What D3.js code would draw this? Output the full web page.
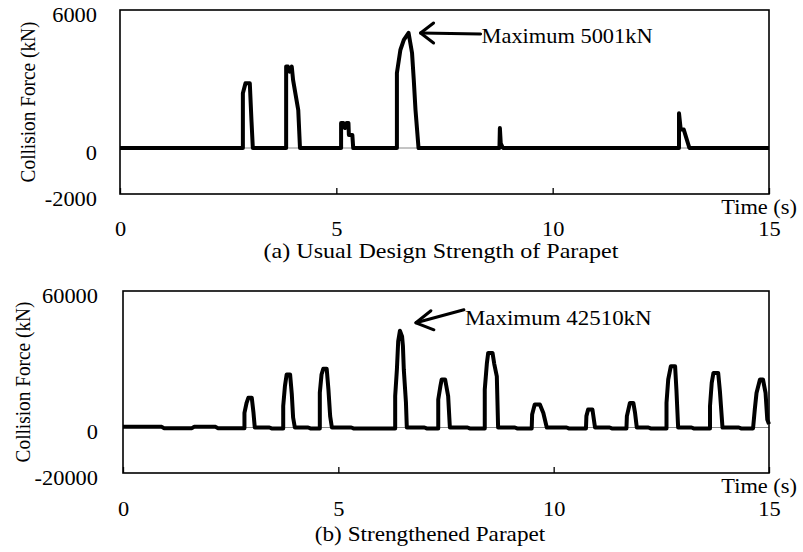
<!DOCTYPE html>
<html>
<head>
<meta charset="utf-8">
<script src="https://cdn.jsdelivr.net/npm/d3@7"></script>
<style>
  body { margin: 0; background: #fff; }
  svg { display: block; font-family: "Liberation Serif", "Times New Roman", serif; }
</style>
</head>
<body>
<svg id="chart" width="803" height="552"></svg>
<script>
// (a) usual design strength of parapet
var timeA  = [0, 2.84, 2.84, 2.90, 3.00, 3.04, 3.07,
              3.84, 3.84, 3.88, 3.92, 3.97, 4.00, 4.12, 4.16,
              5.11, 5.11, 5.16, 5.20, 5.24, 5.28, 5.29, 5.37, 5.39,
              6.40, 6.40, 6.48, 6.56, 6.67, 6.75, 6.79, 6.83, 6.90,
              8.77, 8.78, 8.80, 8.85,
              12.92, 12.92, 12.96, 13.03, 13.16, 15];
var forceA = [0, 0, 2380, 2810, 2810, 1140, 0,
              0, 3540, 3540, 3320, 3540, 2960, 1650, 0,
              0, 1090, 1090, 870, 1090, 1090, 565, 565, 0,
              0, 3260, 4260, 4700, 5001, 4130, 2960, 1650, 0,
              0, 870, 200, 0,
              0, 1510, 800, 800, 0, 0];

// (b) strengthened parapet
var timeB  = [0, 0.9, 0.95, 1.6, 1.65, 2.15, 2.2,
              2.82, 2.82, 2.87, 2.91, 2.99, 3.03, 3.06, 3.4, 3.45,
              3.72, 3.72, 3.76, 3.80, 3.88, 3.92, 3.95, 3.99, 4.3, 4.35,
              4.57, 4.57, 4.61, 4.65, 4.73, 4.77, 4.81, 4.85, 5.3, 5.35,
              6.32, 6.32, 6.36, 6.39, 6.43, 6.48, 6.50, 6.52, 6.57, 6.59, 7.0, 7.05,
              7.32, 7.32, 7.37, 7.40, 7.48, 7.55, 7.59, 8.0, 8.05,
              8.40, 8.40, 8.45, 8.48, 8.58, 8.62, 8.68, 8.71, 9.1, 9.15,
              9.49, 9.50, 9.56, 9.68, 9.76, 9.84, 10.3, 10.35,
              10.75, 10.76, 10.80, 10.90, 10.96, 11.3, 11.35,
              11.69, 11.70, 11.77, 11.85, 11.89, 11.93, 12.2, 12.25,
              12.62, 12.62, 12.66, 12.72, 12.82, 12.85, 12.89, 13.2, 13.25,
              13.63, 13.63, 13.67, 13.71, 13.82, 13.86, 13.92, 14.3, 14.35,
              14.63, 14.67, 14.71, 14.79, 14.86, 14.92, 14.96, 15.0];
var forceB = [300, 300, -300, -300, 300, 300, -300,
              -300, 6460, 10860, 13060, 13060, 6460, 0, 0, -400,
              -400, 9400, 18200, 23300, 23300, 14500, 4400, 0, 0, -400,
              -400, 15250, 23300, 25800, 25800, 16700, 5000, 0, 0, -400,
              -400, 13800, 25500, 37900, 42510, 40000, 35700, 25500, 11000, 0, 0, -400,
              -400, 12300, 18200, 21100, 21100, 13800, 0, 0, -400,
              -400, 16700, 28400, 32800, 32800, 28000, 22500, 0, 0, -400,
              -400, 5700, 10100, 10100, 6400, 0, 0, -400,
              -400, 5000, 7900, 7900, 0, 0, -400,
              -400, 5000, 10800, 10800, 6400, 0, 0, -400,
              -400, 10800, 21100, 26900, 26900, 16700, 0, 0, -400,
              -400, 9400, 19600, 24000, 24000, 16000, 0, 0, -400,
              -400, 7900, 15200, 21100, 21100, 15200, 3500, 1500];

var xTicks  = [0, 5, 10, 15];
var yTicksA = [-2000, 0, 6000];
var yTicksB = [-20000, 0, 60000];
var yTitle  = "Collision Force (kN)";
var xTitle  = "Time (s)";
var captionA = "(a) Usual Design Strength of Parapet";
var captionB = "(b) Strengthened Parapet";
var noteA = "Maximum 5001kN";
var noteB = "Maximum 42510kN";

var svg = d3.select("#chart");
var sx = 1.12; // source figure is stretched sideways a little
var plain = function(d) { return String(d); }; // hyphen minus, no grouping

function label(g, x, y, str, anchor, size) {
  return g.append("text")
    .attr("transform", "translate(" + x + "," + y + ") scale(" + sx + ",1)")
    .attr("text-anchor", anchor)
    .attr("font-size", size || 20)
    .text(str);
}

function panel(p) {
  var g = svg.append("g");
  var x = d3.scaleLinear().domain([0, 15]).range([p.left, p.right]);
  var y = d3.scaleLinear().domain(p.yDomain).range([p.bottom, p.top]);

  // zero line
  g.append("line")
    .attr("x1", p.left).attr("x2", p.right)
    .attr("y1", y(0)).attr("y2", y(0))
    .attr("stroke", "#8a8a8a").attr("stroke-width", 1);

  // frame
  g.append("rect")
    .attr("x", p.left).attr("y", p.top)
    .attr("width", p.right - p.left).attr("height", p.bottom - p.top)
    .attr("fill", "none").attr("stroke", "#000").attr("stroke-width", 1.6);

  // x axis: ticks point up into the frame, labels sit well below
  var xa = g.append("g")
    .attr("transform", "translate(0," + p.bottom + ")")
    .call(d3.axisBottom(x).tickValues(xTicks).tickFormat(plain)
      .tickSizeInner(-6).tickSizeOuter(0).tickPadding(p.xPad));
  xa.attr("font-family", null).attr("font-size", null);
  xa.select(".domain").remove();
  xa.selectAll("line").attr("stroke", "#000").attr("stroke-width", 1.3);
  xa.selectAll("text").attr("font-size", 20).attr("fill", "#000")
    .attr("transform", "scale(" + sx + ",1)");

  var ya = g.append("g")
    .attr("transform", "translate(" + p.left + ",0)")
    .call(d3.axisLeft(y).tickValues(p.yTicks).tickFormat(plain).tickSize(0).tickPadding(0));
  ya.attr("font-family", null).attr("font-size", null);
  ya.select(".domain").remove();
  ya.selectAll("text").attr("font-size", 20).attr("fill", "#000")
    .attr("x", 0).attr("dy", "0.55em")
    .attr("transform", "translate(" + (-p.labelGap) + ",0) scale(" + sx + ",1)");

  // series
  var pts = d3.zip(p.time, p.force);
  g.append("path")
    .datum(pts)
    .attr("fill", "none")
    .attr("stroke", "#000")
    .attr("stroke-width", 4)
    .attr("stroke-linejoin", "round")
    .attr("d", d3.line().x(function(d) { return x(d[0]); }).y(function(d) { return y(d[1]); }));

  // titles
  g.append("text")
    .attr("transform", "translate(" + p.yTitleX + "," + ((p.top + p.bottom) / 2) + ") scale(" + sx + ",1) rotate(-90)")
    .attr("text-anchor", "middle")
    .attr("font-size", 19.3)
    .text(yTitle);
  label(g, 797, p.bottom + 20, xTitle, "end");
  label(g, p.captionX, p.bottom + p.captionDy, p.caption, "middle", p.captionSize);

  // maximum annotation
  var i = d3.maxIndex(p.force);
  var tip = [x(p.time[i]) + p.tip[0], y(p.force[i]) + p.tip[1]];
  var a = g.append("g").attr("stroke", "#000").attr("stroke-width", 3)
    .attr("fill", "none").attr("stroke-linecap", "round").attr("stroke-linejoin", "round");
  a.append("line")
    .attr("x1", tip[0]).attr("y1", tip[1])
    .attr("x2", tip[0] + p.shaft[0]).attr("y2", tip[1] + p.shaft[1]);
  a.append("path")
    .attr("d", "M" + (tip[0] + p.barb1[0]) + "," + (tip[1] + p.barb1[1]) +
               "L" + tip[0] + "," + tip[1] +
               "L" + (tip[0] + p.barb2[0]) + "," + (tip[1] + p.barb2[1]));
  g.append("text")
    .attr("transform", "translate(" + (tip[0] + p.shaft[0] + 1) + "," + (tip[1] + p.textDy) + ") scale(" + sx + ",1)")
    .attr("font-size", p.noteSize)
    .text(p.note);
}

panel({
  left: 120, right: 769, top: 10, bottom: 194,
  yDomain: [-2000, 6000], yTicks: yTicksA, labelGap: 23, yTitleX: 35, xPad: 28,
  time: timeA, force: forceA,
  caption: captionA, captionX: 441, captionDy: 64, captionSize: 21.5,
  note: noteA, noteSize: 20, tip: [12, 0], shaft: [60, 1], barb1: [13, -10], barb2: [13, 10], textDy: 10
});

panel({
  left: 123, right: 769, top: 291, bottom: 473,
  yDomain: [-20000, 60000], yTicks: yTicksB, labelGap: 25, yTitleX: 30, xPad: 29,
  time: timeB, force: forceB,
  caption: captionB, captionX: 430, captionDy: 68, captionSize: 20.7,
  note: noteB, noteSize: 20.5, tip: [16, -8], shaft: [48, -13], barb1: [15, -12], barb2: [18, 7], textDy: 2
});
</script>
</body>
</html>
